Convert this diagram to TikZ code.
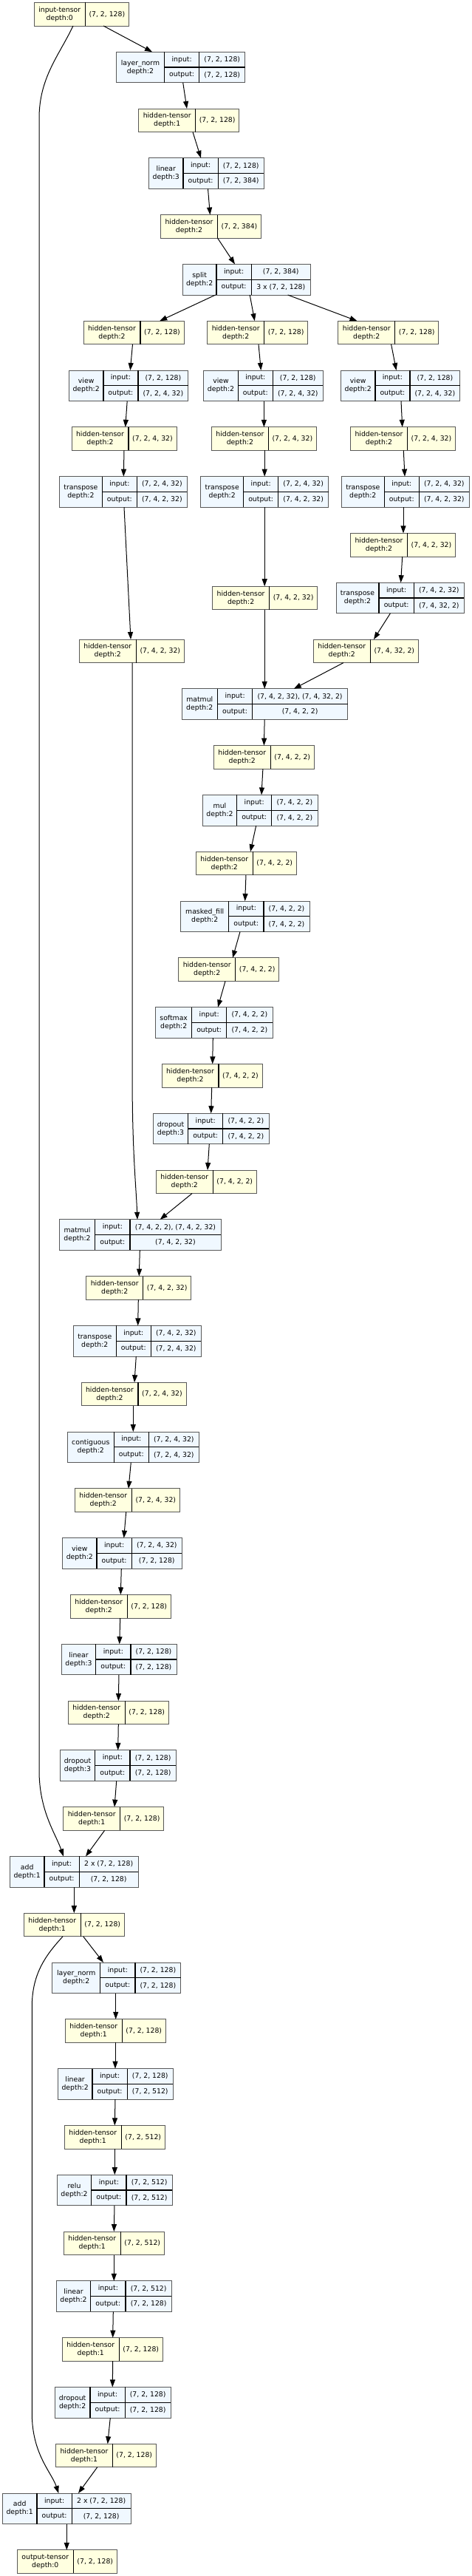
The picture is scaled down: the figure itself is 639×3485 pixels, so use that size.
\documentclass[tikz,border=0pt]{standalone}
\usepackage{fontspec}
\setmainfont{DejaVu Sans}
\usetikzlibrary{arrows.meta}
\definecolor{tyellow}{HTML}{FFFFE0}
\definecolor{mblue}{HTML}{F0F8FF}
\tikzset{
  tensorbox/.style={draw=black!65, line width=1pt, fill=tyellow, minimum height=31.6pt, inner sep=0pt, outer sep=0pt},
  modbox/.style={draw=black!65, line width=1pt, fill=mblue, minimum height=41.6pt, inner sep=0pt, outer sep=0pt},
  cellline/.style={draw=black, line width=1.2pt},
  celltext/.style={inner sep=0pt, font=\fontsize{9.3}{11}\selectfont, align=center, text=black},
  edge/.style={draw=black, line width=1pt, -{Triangle[length=10pt,width=7pt]}},
}
\newcommand{\Tn}[7]{%
  \pgfmathsetmacro{\rkY}{-(19.2+71.8*(#3-1))}
  \node[tensorbox, minimum width={(#4+#5)*1pt}, anchor=west] (#1) at (#2,\rkY) {};
  \draw[cellline] ([xshift=#4pt]#1.north west) -- ([xshift=#4pt]#1.south west);
  \node[celltext] (#1-l) at ([xshift={#4/2*1pt}]#1.west) {#6};
  \node[celltext] (#1-r) at ([xshift={-#5/2*1pt}]#1.east) {#7};
}
\newcommand{\Mn}[9]{%
  \pgfmathsetmacro{\rkY}{-(19.2+71.8*(#3-1))}
  \node[modbox, minimum width={(#4+#5+#6)*1pt}, anchor=west] (#1) at (#2,\rkY) {};
  \draw[cellline] ([xshift=#4pt]#1.north west) -- ([xshift=#4pt]#1.south west);
  \draw[cellline] ([xshift={(#4+#5)*1pt}]#1.north west) -- ([xshift={(#4+#5)*1pt}]#1.south west);
  \draw[cellline] ([xshift=#4pt]#1.west) -- (#1.east);
  \node[celltext] (#1-n) at ([xshift={#4/2*1pt}]#1.west) {#7};
  \node[celltext] (#1-i) at ([xshift={(#4+#5/2)*1pt}, yshift=10.4pt]#1.west) {input:};
  \node[celltext] (#1-o) at ([xshift={(#4+#5/2)*1pt}, yshift=-10.4pt]#1.west) {output:};
  \node[celltext] (#1-a) at ([xshift={-#6/2*1pt}, yshift=10.4pt]#1.east) {#8};
  \node[celltext] (#1-b) at ([xshift={-#6/2*1pt}, yshift=-10.4pt]#1.east) {#9};
}
\newcommand{\E}[4]{\draw[edge] (#1.south -| #2,0) -- (#3.north -| #4,0);}
\begin{document}
\begin{tikzpicture}[x=1pt,y=1pt]
\fill[white] (0,0) rectangle (639,-3485);
\useasboundingbox (0,0) rectangle (639,-3485);
% ---- nodes ----
\Tn{in0}{46}{1}{69.5}{58.7}{input-tensor\\depth:0}{(7, 2, 128)}
\Mn{ln1}{157.5}{2}{65}{47.3}{62}{layer\_norm\\depth:2}{(7, 2, 128)}{(7, 2, 128)}
\Tn{h1}{187.7}{3}{77}{59}{hidden-tensor\\depth:1}{(7, 2, 128)}
\Mn{lin1}{201.6}{4}{46.4}{47.3}{62}{linear\\depth:3}{(7, 2, 128)}{(7, 2, 384)}
\Tn{h2}{217.5}{5}{77}{59}{hidden-tensor\\depth:2}{(7, 2, 384)}
\Mn{split}{247.3}{6}{45.7}{47.3}{80}{split\\depth:2}{(7, 2, 384)}{3 x (7, 2, 128)}
\Tn{vA}{113}{7}{77}{59}{hidden-tensor\\depth:2}{(7, 2, 128)}
\Tn{qA}{280.7}{7}{77}{59}{hidden-tensor\\depth:2}{(7, 2, 128)}
\Tn{kA}{457.8}{7}{77}{59}{hidden-tensor\\depth:2}{(7, 2, 128)}
\Mn{vB}{93.4}{8}{46.5}{47}{68}{view\\depth:2}{(7, 2, 128)}{(7, 2, 4, 32)}
\Mn{qB}{275.8}{8}{46.5}{47}{68}{view\\depth:2}{(7, 2, 128)}{(7, 2, 4, 32)}
\Mn{kB}{461.4}{8}{46.5}{47}{68}{view\\depth:2}{(7, 2, 128)}{(7, 2, 4, 32)}
\Tn{vC}{97}{9}{77}{65}{hidden-tensor\\depth:2}{(7, 2, 4, 32)}
\Tn{qC}{286.4}{9}{77}{65}{hidden-tensor\\depth:2}{(7, 2, 4, 32)}
\Tn{kC}{474.5}{9}{77}{65}{hidden-tensor\\depth:2}{(7, 2, 4, 32)}
\Mn{vD}{80.4}{10}{58}{47}{68}{transpose\\depth:2}{(7, 2, 4, 32)}{(7, 4, 2, 32)}
\Mn{qD}{271.7}{10}{58}{47}{68}{transpose\\depth:2}{(7, 2, 4, 32)}{(7, 4, 2, 32)}
\Mn{kD}{462.3}{10}{58}{47}{68}{transpose\\depth:2}{(7, 2, 4, 32)}{(7, 4, 2, 32)}
\Tn{kE}{474.5}{11}{77}{65}{hidden-tensor\\depth:2}{(7, 4, 2, 32)}
\Tn{qE}{287.6}{12}{77}{65}{hidden-tensor\\depth:2}{(7, 4, 2, 32)}
\Mn{kF}{455}{12}{58}{47.3}{68}{transpose\\depth:2}{(7, 4, 2, 32)}{(7, 4, 32, 2)}
\Tn{vE}{107.3}{13}{77}{65}{hidden-tensor\\depth:2}{(7, 4, 2, 32)}
\Tn{kG}{424.3}{13}{77}{65}{hidden-tensor\\depth:2}{(7, 4, 32, 2)}
\Mn{mmA}{246}{14}{48.6}{47}{129}{matmul\\depth:2}{(7, 4, 2, 32), (7, 4, 32, 2)}{(7, 4, 2, 2)}
\Tn{sA}{289.3}{15}{77}{59}{hidden-tensor\\depth:2}{(7, 4, 2, 2)}
\Mn{mul}{274.3}{16}{46.4}{47}{62.3}{mul\\depth:2}{(7, 4, 2, 2)}{(7, 4, 2, 2)}
\Tn{sB}{265.3}{17}{77}{59}{hidden-tensor\\depth:2}{(7, 4, 2, 2)}
\Mn{mf}{244.7}{18}{65}{47.3}{62}{masked\_fill\\depth:2}{(7, 4, 2, 2)}{(7, 4, 2, 2)}
\Tn{sC}{241.7}{19}{77}{59}{hidden-tensor\\depth:2}{(7, 4, 2, 2)}
\Mn{smax}{210.7}{20}{49}{47}{62.3}{softmax\\depth:2}{(7, 4, 2, 2)}{(7, 4, 2, 2)}
\Tn{sD}{219}{21}{77}{59}{hidden-tensor\\depth:2}{(7, 4, 2, 2)}
\Mn{doA}{207.3}{22}{47.4}{47}{62.3}{dropout\\depth:3}{(7, 4, 2, 2)}{(7, 4, 2, 2)}
\Tn{sE}{211.3}{23}{77}{59}{hidden-tensor\\depth:2}{(7, 4, 2, 2)}
\Mn{mmB}{80.3}{24}{48.4}{47.3}{123}{matmul\\depth:2}{(7, 4, 2, 2), (7, 4, 2, 32)}{(7, 4, 2, 32)}
\Tn{oA}{116.7}{25}{77}{65}{hidden-tensor\\depth:2}{(7, 4, 2, 32)}
\Mn{tB}{99.3}{26}{58}{47}{68}{transpose\\depth:2}{(7, 4, 2, 32)}{(7, 2, 4, 32)}
\Tn{oB}{110}{27}{77}{65}{hidden-tensor\\depth:2}{(7, 2, 4, 32)}
\Mn{cont}{91.3}{28}{63}{47}{68}{contiguous\\depth:2}{(7, 2, 4, 32)}{(7, 2, 4, 32)}
\Tn{oC}{101.3}{29}{77}{65}{hidden-tensor\\depth:2}{(7, 2, 4, 32)}
\Mn{viewB}{84.7}{30}{46.3}{47.3}{68}{view\\depth:2}{(7, 2, 4, 32)}{(7, 2, 128)}
\Tn{oD}{95.3}{31}{77}{59}{hidden-tensor\\depth:2}{(7, 2, 128)}
\Mn{linB}{83.3}{32}{46.4}{47.3}{62}{linear\\depth:3}{(7, 2, 128)}{(7, 2, 128)}
\Tn{oE}{92.3}{33}{77}{59}{hidden-tensor\\depth:2}{(7, 2, 128)}
\Mn{doB}{81.3}{34}{47.4}{47.3}{62.3}{dropout\\depth:3}{(7, 2, 128)}{(7, 2, 128)}
\Tn{oF}{85.7}{35}{77}{59}{hidden-tensor\\depth:1}{(7, 2, 128)}
\Mn{addA}{13.3}{36}{46.7}{47.3}{79.7}{add\\depth:1}{2 x (7, 2, 128)}{(7, 2, 128)}
\Tn{fA}{32.3}{37}{77}{59}{hidden-tensor\\depth:1}{(7, 2, 128)}
\Mn{lnB}{70.7}{38}{65}{47.3}{61.7}{layer\_norm\\depth:2}{(7, 2, 128)}{(7, 2, 128)}
\Tn{fB}{88.3}{39}{77}{59}{hidden-tensor\\depth:1}{(7, 2, 128)}
\Mn{linC}{78.3}{40}{46.7}{47.3}{62}{linear\\depth:2}{(7, 2, 128)}{(7, 2, 512)}
\Tn{fC}{87.3}{41}{77}{59}{hidden-tensor\\depth:1}{(7, 2, 512)}
\Mn{relu}{77.3}{42}{46.4}{47.3}{62.3}{relu\\depth:2}{(7, 2, 512)}{(7, 2, 512)}
\Tn{fD}{86.3}{43}{77}{59}{hidden-tensor\\depth:1}{(7, 2, 512)}
\Mn{linD}{76.3}{44}{46.4}{47.3}{62.3}{linear\\depth:2}{(7, 2, 512)}{(7, 2, 128)}
\Tn{fE}{84.3}{45}{77}{59}{hidden-tensor\\depth:1}{(7, 2, 128)}
\Mn{doC}{74.3}{46}{47.7}{47.3}{61.7}{dropout\\depth:2}{(7, 2, 128)}{(7, 2, 128)}
\Tn{fF}{75.7}{47}{76.6}{59}{hidden-tensor\\depth:1}{(7, 2, 128)}
\Mn{addB}{3.3}{48}{46.7}{47.3}{79.7}{add\\depth:1}{2 x (7, 2, 128)}{(7, 2, 128)}
\Tn{outT}{23.3}{49}{76}{59}{output-tensor\\depth:0}{(7, 2, 128)}
% ---- edges ----
\E{in0}{140}{ln1}{206}
\draw[edge] (in0.south -| 99,0) .. controls (80,-75) and (53,-105) .. (53,-160) -- (53,-2395) .. controls (53,-2450) and (75,-2480) .. (addA.north -| 86,0);
\E{ln1}{247.7}{h1}{253}
\E{h1}{261}{lin1}{272}
\E{lin1}{281.5}{h2}{284.4}
\E{h2}{294.6}{split}{318}
\E{split}{291.7}{vA}{216.2}
\E{split}{338.2}{qA}{344.8}
\E{split}{389.6}{kA}{483.5}
\E{vA}{179.5}{vB}{176.3}
\E{qA}{350}{qB}{353.3}
\E{kA}{529.6}{kB}{536.5}
\E{vB}{172.2}{vC}{169.7}
\E{qB}{357.4}{qC}{357.4}
\E{kB}{543}{kC}{544.7}
\E{vC}{168}{vD}{167.3}
\E{qC}{358.2}{qD}{358.2}
\E{kC}{546.3}{kD}{548}
\E{kD}{546}{kE}{546}
\E{kE}{544.7}{kF}{542.6}
\E{kF}{528.4}{kG}{506}
\E{qD}{358.2}{qE}{358.2}
\E{qE}{358.2}{mmA}{358.2}
\E{kG}{465}{mmA}{397.8}
\E{vD}{168}{vE}{177}
\draw[edge] (vE.south -| 179,0) -- (179,-1450) .. controls (179,-1560) and (184,-1600) .. (mmB.north -| 186,0);
\E{mmA}{358.2}{sA}{357.4}
\E{sA}{355.9}{mul}{354}
\E{mul}{346.7}{sB}{339}
\E{sB}{333}{mf}{331.7}
\E{mf}{325}{sC}{315}
\E{sC}{305}{smax}{295}
\E{smax}{288.3}{sD}{287.7}
\E{sD}{286.7}{doA}{285.7}
\E{doA}{283.3}{sE}{281}
\E{sE}{260}{mmB}{216.7}
\E{mmB}{189.3}{oA}{188.3}
\E{oA}{187.3}{tB}{186.7}
\E{tB}{184.3}{oB}{182}
\E{oB}{180.3}{cont}{180.3}
\E{cont}{177.3}{oC}{174}
\E{oC}{170.7}{viewB}{167.7}
\E{viewB}{164.3}{oD}{163.3}
\E{oD}{162.7}{linB}{161.7}
\E{linB}{161}{oE}{160.3}
\E{oE}{160.3}{doB}{159.7}
\E{doB}{157.7}{oF}{155}
\E{oF}{141.7}{addA}{116}
\E{addA}{100.3}{fA}{100.3}
\E{fA}{112.7}{lnB}{140}
\draw[edge] (fA.south -| 85,0) .. controls (62,-2645) and (43.3,-2670) .. (43.3,-2715) -- (43.3,-3265) .. controls (43.3,-3320) and (70,-3345) .. (addB.north -| 79.3,0);
\E{lnB}{156.7}{fB}{156.7}
\E{fB}{156}{linC}{156}
\E{linC}{156}{fC}{155.3}
\E{fC}{155.3}{relu}{155.3}
\E{relu}{155}{fD}{154.3}
\E{fD}{154.3}{linD}{154.3}
\E{linD}{153.3}{fE}{152.7}
\E{fE}{152.7}{doC}{152.3}
\E{doC}{149.3}{fF}{145.7}
\E{fF}{131.7}{addB}{106}
\E{addB}{90.3}{outT}{90.3}
\end{tikzpicture}
\end{document}
